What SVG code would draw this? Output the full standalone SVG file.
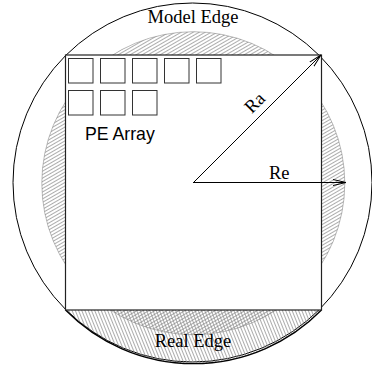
<svg xmlns="http://www.w3.org/2000/svg" width="372" height="365" viewBox="0 0 372 365">
<style>
.serif{font-family:"Liberation Serif","Times New Roman",serif;font-size:18.5px;fill:#000}
.sans{font-family:"Liberation Sans",Arial,sans-serif;font-size:17.7px;fill:#000}
.pe{fill:#fff;stroke:#333;stroke-width:1}
.conn{stroke:#000;stroke-width:1;fill:none}
</style>
<defs>
<pattern id="hatchA" width="4" height="3" patternUnits="userSpaceOnUse" patternTransform="rotate(-30)">
<line x1="0" y1="1.5" x2="4" y2="1.5" stroke="#888" stroke-width="0.7"/>
</pattern>
<pattern id="hatchB" width="4" height="3" patternUnits="userSpaceOnUse" patternTransform="rotate(68)">
<line x1="0" y1="1.5" x2="4" y2="1.5" stroke="#888" stroke-width="0.7"/>
</pattern>
<marker id="arr" markerWidth="14" markerHeight="8" refX="13" refY="4" orient="auto" markerUnits="userSpaceOnUse">
<path d="M0,1 L13,4 L0,7" fill="none" stroke="#000" stroke-width="1"/>
</marker>
</defs>
<g id="model-edge">
<circle cx="192.5" cy="182.5" r="179.5" fill="#fff" stroke="#000" stroke-width="1"/>
<text class="serif" x="193" y="23" text-anchor="middle">Model Edge</text>
</g>
<g id="inner-edge">
<circle cx="193.3" cy="183.2" r="151.5" fill="url(#hatchA)" stroke="#777" stroke-width="0.5"/>
</g>
<g id="real-edge">
<path d="M65.5,310 A179.5,179.5 0 0 0 321.5,310 Z" fill="url(#hatchB)" stroke="none"/>
<path d="M65.5,310 A179.5,179.5 0 0 0 321.5,310" fill="none" stroke="#000" stroke-width="1.3"/>
<text class="serif" x="193" y="347" text-anchor="middle">Real Edge</text>
</g>
<g id="pe-array">
<rect x="65.5" y="55" width="256" height="255" fill="#fff" stroke="#222" stroke-width="1.2"/>
<rect class="pe" x="68.5" y="58.5" width="24.5" height="24.5"/>
<rect class="pe" x="100.5" y="58.5" width="24.5" height="24.5"/>
<rect class="pe" x="132.5" y="58.5" width="24.5" height="24.5"/>
<rect class="pe" x="164.5" y="58.5" width="24.5" height="24.5"/>
<rect class="pe" x="196.5" y="58.5" width="24.5" height="24.5"/>
<rect class="pe" x="68.5" y="90.5" width="24.5" height="24.5"/>
<rect class="pe" x="100.5" y="90.5" width="24.5" height="24.5"/>
<rect class="pe" x="132.5" y="90.5" width="24.5" height="24.5"/>
<text class="sans" x="85" y="140">PE Array</text>
</g>
<g id="connectors">
<line class="conn" x1="193" y1="183" x2="321" y2="55" marker-end="url(#arr)"/>
<line class="conn" x1="193" y1="182.5" x2="346" y2="182.5" marker-end="url(#arr)"/>
</g>
<g id="labels">
<text class="serif" text-anchor="middle" transform="translate(259,107) rotate(-45)">Ra</text>
<text class="serif" x="269" y="179">Re</text>
</g>
</svg>
